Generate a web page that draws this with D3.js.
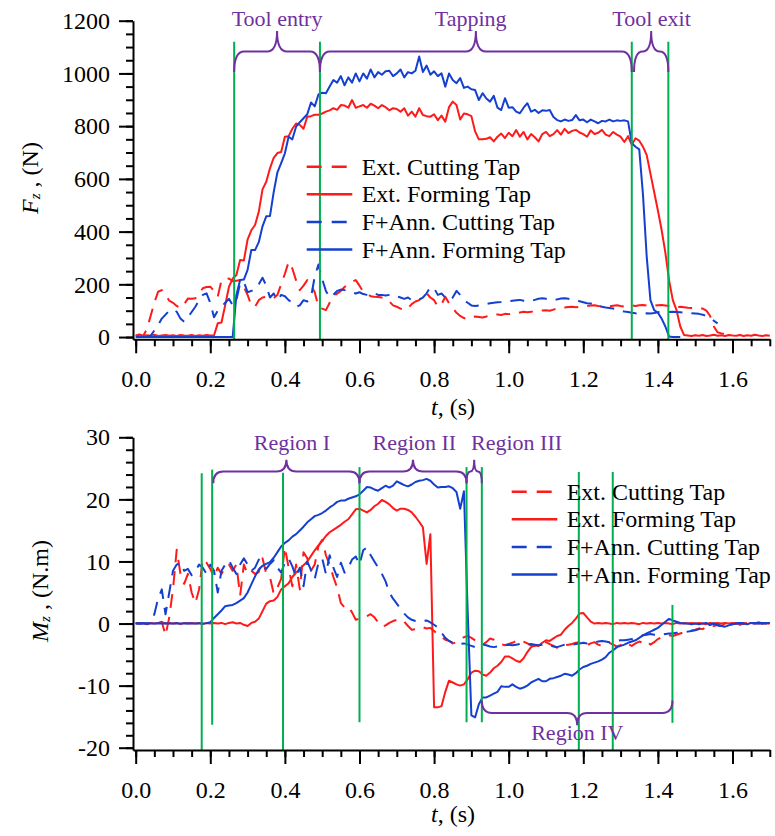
<!DOCTYPE html>
<html>
<head>
<meta charset="utf-8">
<script src="https://cdn.jsdelivr.net/npm/d3@7"></script>
<style>
body { margin: 0; background: #fff; }
svg { display: block; }
svg text { font-family: "Liberation Serif", "Times New Roman", serif; }
</style>
</head>
<body>
<svg id="chart" width="775" height="836" font-family="Liberation Serif, serif"></svg>
<script>
// sample times (s), one every 0.01 s
var time = d3.range(0, 171).map(function(i) { return i / 100; });

// Fz (N), top panel
var extCutF = [5,10,4,30,80,130,172,178,160,138,
  130,118,110,125,146,145,147,165,185,190,
  191,175,153,216,220,222,212,214,216,190,
  160,120,115,140,150,153,150,147,160,200,
  240,285,260,215,178,195,216,195,170,115,
  108,102,130,155,165,175,190,200,210,216,
  195,172,163,155,153,152,150,147,135,120,
  115,108,102,110,125,135,140,155,166,150,
  140,115,125,153,128,110,92,80,72,68,
  72,78,76,74,78,83,85,86,84,88,
  87,88,90,93,96,94,96,97,99,101,
  102,100,104,108,110,112,114,115,113,115,
  117,118,120,121,118,116,114,117,119,121,
  118,116,118,120,118,121,122,120,118,119,
  121,122,120,118,116,114,115,113,111,110,
  108,109,108,100,80,40,18,14,12,10];
var extFormF = [5,8,4,7,5,9,4,6,8,5,
  7,4,8,6,5,8,4,7,5,8,
  6,7,52,55,121,190,222,235,292,290,
  370,405,425,475,560,589,640,680,698,702,
  760,762,790,810,805,790,836,838,843,843,
  848,855,860,868,862,880,878,870,899,870,
  875,880,870,885,878,868,880,872,860,868,
  865,855,868,840,855,836,868,842,838,836,
  845,823,840,817,872,893,880,825,848,845,
  838,780,750,750,752,758,742,760,772,755,
  775,762,785,760,778,750,770,758,742,770,
  778,762,770,785,768,790,774,782,786,776,
  770,760,784,770,775,786,768,762,778,768,
  760,740,762,729,754,745,722,690,620,550,
  480,406,320,215,140,102,40,8,6,4,
  7,5,8,4,6,9,5,7,4,8,
  6,5,8,4,7,5,9,6,4,7,
  5];
var annCutF = [null,null,0,1,5,25,45,70,85,100,
  105,96,70,58,75,95,115,140,160,166,
  130,75,100,115,130,145,120,140,205,210,
  170,175,180,200,225,195,150,165,140,160,
  155,140,130,115,120,140,135,150,230,275,
  220,175,150,160,175,180,178,175,170,165,
  170,163,160,158,165,160,160,158,160,162,
  155,150,145,150,140,140,142,150,166,190,
  185,160,165,150,140,150,175,160,140,130,
  120,118,120,122,125,128,130,132,133,135,
  136,138,140,141,138,135,137,141,145,147,
  145,142,140,143,146,147,145,142,140,136,
  132,128,127,124,118,115,112,110,108,104,
  100,97,95,92,90,89,89,90,89,91,
  94,96,96,95,96,95,94,93,91,90,
  89,88,85,80,72,62,52];
var annFormF = [0,0,0,0,0,0,0,0,0,0,
  0,0,0,0,0,0,0,0,0,0,
  0,0,0,0,0,0,0,160,216,218,
  255,330,330,360,420,458,459,550,625,660,
  697,760,750,798,815,830,845,890,875,920,
  927,925,950,975,965,990,955,985,965,1000,
  970,1000,980,1015,985,1005,995,1008,1010,990,
  1000,1015,985,1005,1000,1010,1064,1005,1030,995,
  1008,990,1000,950,1000,975,963,982,945,950,
  940,937,899,925,905,893,915,870,861,906,
  870,872,855,849,870,887,855,862,850,860,
  858,861,835,823,818,825,820,823,842,822,
  825,815,825,818,811,820,818,825,818,822,
  820,822,818,735,722,712,540,305,140,102,
  92,70,40,2,0,0,0];

// Mz (N.m), bottom panel
var extCutM = [0.1,0,0.1,-0.1,0,0.1,0,0.3,-1.9,1.0,
  5.5,11.9,8.0,6.4,8.0,5.0,3.3,5.5,10.4,9.8,
  8.8,7.5,9.0,8.0,9.0,9.5,8.5,9.5,4.5,9.5,
  8.0,8.5,8.0,8.3,10.5,8.0,7.5,4.8,5.8,7.2,
  12.3,9.0,6.0,9.5,5.5,11.5,10.5,8.5,9.5,12.5,
  13.5,11.0,9.5,7.5,5.8,3.3,2.6,2.8,1.8,0.6,
  0.8,1.0,1.2,1.5,1.0,0.2,-0.5,-0.3,0.1,0.4,
  0.6,0.7,0.3,-0.4,-1.0,-0.9,-0.7,-0.6,-0.8,-0.7,
  -1.2,-1.7,-2.2,-2.6,-2.8,-3.2,-3.0,-2.5,-2.2,-2.0,
  -2.3,-2.7,-3.2,-3.4,-3.0,-2.4,-2.6,-3.0,-3.3,-3.5,
  -3.3,-3.1,-2.8,-2.6,-2.9,-3.2,-3.5,-3.6,-3.4,-3.2,
  -3.0,-3.3,-3.6,-3.9,-3.8,-3.5,-3.4,-3.3,-3.1,-3.0,
  -3.3,-3.5,-3.2,-3.0,-3.4,-3.6,-3.3,-3.1,-3.4,-3.7,
  -3.5,-3.0,-3.3,-3.6,-3.2,-2.9,-3.1,-2.8,-3.4,-3.0,
  -2.5,-2.2,-2.0,-1.9,-2.0,-1.8,-1.6,-1.4,-1.2,-1.1,
  -1.0,-0.8,-0.9,-0.5,-0.3,-0.4,-0.2,-0.4,0.0,-0.3,
  -0.1,0.1,-0.2,0.0,0.1,-0.1,0.0,0.2,0.0,0.1,
  0.0];
var extFormM = [0.1,0,0.1,-0.1,0.1,0,0.1,0.2,0,0.1,
  0,0.1,-0.1,0.1,0,0.1,0,0.1,-0.1,0.1,
  0,0.1,0,0.1,-0.1,0.1,0.2,0,0.1,-0.2,
  -0.4,0.1,0.3,0.8,2.0,3.2,3.6,3.7,4.3,5.5,
  6.0,6.5,7.5,8.2,8.8,9.4,10.0,10.9,11.8,12.6,
  13.3,14.1,14.7,15.1,15.5,15.9,16.4,16.8,17.6,18.4,
  18.5,18.2,17.9,18.3,18.9,19.3,19.9,19.6,19.2,18.6,
  18.2,18.5,18.5,18.3,17.9,17.2,16.4,15.5,9.6,14.4,
  -13.5,-13.5,-13.3,-11.0,-9.2,-9.5,-9.8,-10.0,-9.8,-9.0,
  -7.9,-7.6,-7.7,-8.2,-8.4,-7.9,-7.2,-6.8,-6.2,-5.3,
  -5.3,-5.6,-6.0,-6.2,-5.6,-4.6,-3.8,-3.5,-3.6,-3.1,
  -2.7,-2.8,-2.4,-2.0,-1.8,-1.0,-0.4,0.1,0.8,1.6,
  1.7,1.0,0.3,0.0,0.1,0,0.1,0,-0.1,0.1,
  0,0.1,0,0.1,0,-0.1,0.1,0,0.1,0,
  0.1,0,0.1,0,-0.1,0.1,0,0.1,0,0.1,
  0,0.1,0,-0.1,0.1,0,0.1,0,0.1,0,
  0.1,0,0.1,0,-0.1,0.1,0,0.1,0,0.1,
  0];
var annCutM = [0,0,0.05,0,0.1,1.5,4.0,5.5,1.5,5.0,
  8.5,9.5,9.8,8.5,8.8,7.8,8.5,9.5,9.0,8.0,
  9.5,8.5,5.0,8.5,9.5,10.2,9.0,8.0,9.5,10.5,
  9.5,8.5,9.0,10.3,9.3,8.8,9.6,10.2,9.0,8.2,
  9.8,10.5,9.2,7.5,9.0,6.0,10.0,8.6,7.2,9.8,
  10.5,8.0,11.0,9.0,7.5,9.8,8.2,9.0,10.3,10.8,
  9.5,11.8,12.3,11.0,10.0,9.0,8.0,6.8,5.0,4.0,
  3.2,2.4,1.6,1.0,0.6,0.4,0.3,0.4,0.5,0.2,
  -0.2,-0.6,-1.5,-2.3,-2.8,-3.1,-3.2,-3.3,-3.2,-3.4,
  -3.6,-3.8,-3.6,-3.4,-3.5,-3.7,-3.8,-3.7,-3.6,-3.5,
  -3.4,-3.5,-3.4,-3.3,-3.4,-3.4,-3.3,-3.4,-3.5,-3.4,
  -3.4,-3.5,-3.7,-3.8,-3.6,-3.4,-3.3,-3.4,-3.3,-3.2,
  -3.1,-3.2,-3.0,-3.0,-2.9,-2.8,-2.9,-3.0,-2.9,-2.8,
  -2.7,-2.7,-2.6,-2.5,-2.3,-2.1,-1.9,-1.8,-1.7,-1.8,
  -1.9,-1.8,-1.7,-1.6,-1.6,-1.5,-1.4,-1.4,-1.3,-1.2,
  -1.1,-0.9,-0.6,-0.4,-0.2,0.0,-0.2,-0.4,-0.5,-0.3,
  -0.1,0.0,0.1,0.0,-0.1,0.0,0.1,0.0,0.1,0.0,
  0.1];
var annFormM = [0,0.05,0,0.05,0,0,0.05,0,0.05,0,
  0,0.05,0,0,0.05,0,0,0.05,0,0.05,
  0.2,0.9,1.5,2.1,2.8,2.9,3.0,3.3,3.7,4.1,
  5.0,6.3,7.6,8.7,9.3,9.6,9.9,10.6,11.5,12.4,
  13.0,13.4,14.0,14.4,15.0,15.6,16.3,16.8,17.3,17.5,
  17.8,18.2,18.7,19.1,19.6,19.8,19.8,20.1,20.3,20.5,
  20.8,21.4,22.0,21.9,21.6,21.4,21.8,22.2,21.9,22.2,
  22.9,22.6,22.3,22.1,22.4,22.8,23.0,23.1,23.3,23.0,
  22.4,21.9,22.0,22.0,22.1,21.8,21.2,18.5,21.3,2.0,
  -14.8,-15.1,-13.0,-11.9,-11.9,-11.6,-11.3,-11.0,-10.1,-10.2,
  -10.2,-9.8,-10.2,-10.5,-10.3,-10.0,-9.5,-9.2,-8.9,-9.3,
  -9.3,-8.9,-8.8,-8.6,-8.4,-8.1,-8.2,-8.4,-8.0,-7.4,
  -7.0,-6.8,-6.5,-6.3,-6.1,-5.8,-5.4,-4.7,-4.3,-3.8,
  -3.6,-3.4,-3.1,-2.9,-2.7,-2.3,-1.9,-1.6,-1.3,-1.0,
  -0.7,-0.2,0.3,0.75,0.5,0.3,0.1,0.0,0.0,-0.1,
  0.0,-0.1,0.0,0.1,-0.2,0.0,-0.3,-0.4,-0.5,-0.3,
  -0.1,0.0,0.1,0.0,-0.1,0.1,0.0,0.1,0.0,0.1,
  0.1];

var seriesNames = ["Ext. Cutting Tap", "Ext. Forming Tap", "F+Ann. Cutting Tap", "F+Ann. Forming Tap"];
var seriesColors = ["#ff1a1a", "#ff1a1a", "#1440d0", "#1440d0"];
var seriesDashed = [true, false, true, false];

// phase markers, top panel
var topMarks = [0.264, 0.494, 1.330, 1.428];
var topMarkTop = 1120;
var topPhases = ["Tool entry", "Tapping", "Tool exit"];
var topPhaseFrom = [0.264, 0.494, 1.336];
var topPhaseTo = [0.494, 1.330, 1.428];
var topPhaseLabelT = [0.379, 0.898, 1.383];

// region markers, bottom panel
var botMarks = [0.177, 0.205, 0.395, 0.600, 0.887, 0.928, 1.188, 1.279, 1.439];
var botMarkTop = [24.2, 24.8, 24.3, 25.2, 25.2, 25.2, 24.4, 24.4, 3.0];
var botMarkBottom = [null, -16.3, null, -15.9, -15.9, -15.9, null, null, -16.0];
var regions = ["Region I", "Region II", "Region III", "Region IV"];
var regionFrom = [0.208, 0.600, 0.887, 0.928];
var regionTo = [0.600, 0.887, 0.928, 1.439];
var regionLabelT = [0.419, 0.747, 1.021, 1.184];

var green = "#00b050", purple = "#7030a0";
var serif = "Liberation Serif, Times New Roman, serif";

var svg = d3.select("#chart");

var x = d3.scaleLinear().domain([-0.0072, 1.7]).range([133, 769.8]);
var yTop = d3.scaleLinear().domain([-8.5, 1200]).range([339.3, 20.7]);
var yBot = d3.scaleLinear().domain([-20.37, 30]).range([750, 437.3]);

function drawAxes(y, majors, minors, yLabelFmt) {
  var baseY = y.range()[0];
  svg.append("g").attr("transform", "translate(0," + baseY + ")")
    .call(d3.axisBottom(x).tickValues(d3.range(0, 9).map(function(i) { return i * 0.2; }))
      .tickFormat(d3.format(".1f")).tickSize(14).tickPadding(17).tickSizeOuter(0));
  svg.append("g").attr("transform", "translate(0," + baseY + ")")
    .call(d3.axisBottom(x).tickValues(d3.range(0, 35).map(function(i) { return i * 0.05; }))
      .tickFormat("").tickSize(7).tickSizeOuter(0))
    .select(".domain").remove();
  svg.append("g").attr("transform", "translate(133,0)")
    .call(d3.axisLeft(y).tickValues(majors).tickFormat(yLabelFmt)
      .tickSize(14).tickPadding(9).tickSizeOuter(0));
  svg.append("g").attr("transform", "translate(133,0)")
    .call(d3.axisLeft(y).tickValues(minors).tickFormat("").tickSize(7).tickSizeOuter(0))
    .select(".domain").remove();
  svg.selectAll("g").attr("font-family", serif);
  svg.selectAll(".tick text").attr("font-size", 24).attr("font-family", serif).attr("fill", "#000");
  svg.selectAll(".tick line, .domain").attr("stroke", "#000").attr("stroke-width", 2);
}

function drawSeries(y, arrays) {
  var line = d3.line()
    .defined(function(d) { return d[1] != null; })
    .x(function(d) { return x(d[0]); })
    .y(function(d) { return y(d[1]); });
  arrays.forEach(function(arr, k) {
    var pts = time.map(function(t, i) { return [t, arr[i]]; });
    svg.append("path").datum(pts)
      .attr("d", line)
      .attr("fill", "none")
      .attr("stroke", seriesColors[k])
      .attr("stroke-width", 2)
      .attr("stroke-linejoin", "round")
      .attr("stroke-dasharray", seriesDashed[k] ? "14,9" : null);
  });
}

function bracePath(x1, x2, xm, yTip, yFlat, yPeak) {
  var r = Math.min(10, (x2 - x1) / 4);
  return "M" + x1 + "," + yTip +
    "Q" + x1 + "," + yFlat + " " + (x1 + r) + "," + yFlat +
    "L" + (xm - r) + "," + yFlat +
    "Q" + xm + "," + yFlat + " " + xm + "," + yPeak +
    "Q" + xm + "," + yFlat + " " + (xm + r) + "," + yFlat +
    "L" + (x2 - r) + "," + yFlat +
    "Q" + x2 + "," + yFlat + " " + x2 + "," + yTip;
}

function addText(xx, yy, size) {
  return svg.append("text").attr("x", xx).attr("y", yy)
    .attr("font-family", serif).attr("font-size", size);
}

function drawLegend(x0, y0) {
  seriesNames.forEach(function(name, k) {
    var yy = y0 + k * 27.6;
    svg.append("line")
      .attr("x1", x0).attr("x2", x0 + 45.6).attr("y1", yy).attr("y2", yy)
      .attr("stroke", seriesColors[k]).attr("stroke-width", 2.5)
      .attr("stroke-dasharray", seriesDashed[k] ? "15,10" : null);
    addText(x0 + 55, yy + 8, 24).attr("fill", "#000").text(name);
  });
}

function axisTitleX(yBase) {
  var t = addText(453, yBase, 24).attr("text-anchor", "middle");
  t.append("tspan").attr("font-style", "italic").text("t");
  t.append("tspan").text(", (s)");
}

function axisTitleY(xBase, yMid, sym, unit) {
  var t = svg.append("text")
    .attr("transform", "translate(" + xBase + "," + yMid + ") rotate(-90)")
    .attr("text-anchor", "middle").attr("font-family", serif).attr("font-size", 24);
  t.append("tspan").attr("font-style", "italic").text(sym);
  t.append("tspan").attr("font-style", "italic").attr("font-size", 15).attr("dy", 2).text("z");
  t.append("tspan").attr("dy", -2).text(" , " + unit);
}

// ---- top panel: Fz
drawSeries(yTop, [extCutF, extFormF, annCutF, annFormF]);

topMarks.forEach(function(t) {
  svg.append("line")
    .attr("x1", x(t)).attr("x2", x(t))
    .attr("y1", yTop(topMarkTop)).attr("y2", yTop.range()[0])
    .attr("stroke", green).attr("stroke-width", 2);
});
topPhases.forEach(function(name, k) {
  var xm = x((topPhaseFrom[k] + topPhaseTo[k]) / 2);
  svg.append("path")
    .attr("d", bracePath(x(topPhaseFrom[k]), x(topPhaseTo[k]), xm, yTop(1005), yTop(1083), yTop(1161)))
    .attr("fill", "none").attr("stroke", purple).attr("stroke-width", 2);
  addText(x(topPhaseLabelT[k]), yTop(1180), 22)
    .attr("text-anchor", "middle").attr("fill", purple)
    .text(name);
});

drawAxes(yTop, d3.range(0, 1201, 200), d3.range(0, 1201, 50), function(d) { return String(d); });
drawLegend(306.7, 166.7);
axisTitleX(415);
axisTitleY(38, 178, "F", "(N)");

// ---- bottom panel: Mz
drawSeries(yBot, [extCutM, extFormM, annCutM, annFormM]);

botMarks.forEach(function(t, k) {
  svg.append("line")
    .attr("x1", x(t)).attr("x2", x(t))
    .attr("y1", yBot(botMarkTop[k]))
    .attr("y2", botMarkBottom[k] == null ? yBot.range()[0] : yBot(botMarkBottom[k]))
    .attr("stroke", green).attr("stroke-width", 2);
});
regions.forEach(function(name, k) {
  var xm = x((regionFrom[k] + regionTo[k]) / 2);
  var down = k === 3;
  var tip = down ? -12.4 : 22.6, flat = down ? -14.4 : 24.5, peak = down ? -16.4 : 26.4;
  svg.append("path")
    .attr("d", bracePath(x(regionFrom[k]), x(regionTo[k]), xm, yBot(tip), yBot(flat), yBot(peak)))
    .attr("fill", "none").attr("stroke", purple).attr("stroke-width", 2);
  addText(x(regionLabelT[k]), yBot(down ? -18.8 : 28.0), 22)
    .attr("text-anchor", "middle").attr("fill", purple)
    .text(name);
});

drawAxes(yBot, d3.range(-20, 31, 10), d3.range(-20, 31, 2), function(d) { return String(d); });
drawLegend(511.7, 491.7);
axisTitleX(822);
axisTitleY(48, 591, "M", "(N.m)");
</script>
</body>
</html>
